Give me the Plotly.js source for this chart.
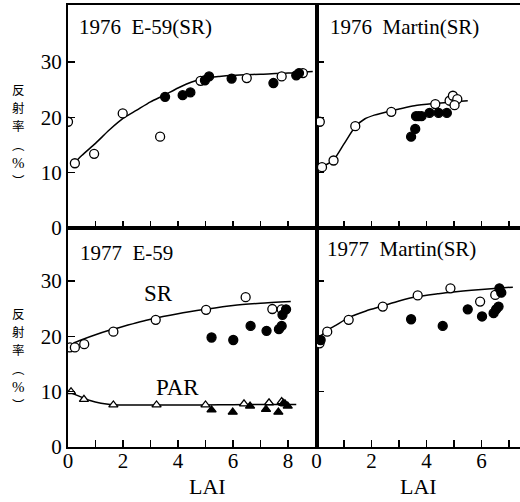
<!DOCTYPE html>
<html>
<head>
<meta charset="utf-8">
<script src="https://cdn.plot.ly/plotly-3.0.1.min.js"></script>
<style>html,body{margin:0;padding:0;background:#fff;}#chart{width:520px;height:502px;}</style>
</head>
<body>
<div id="chart"></div>
<script>
// ---- Data ----
// 1976 E-59 (SR)
const e76_open_x = [0, 0.25, 0.95, 1.99, 3.35, 4.82, 6.5, 7.77, 8.54];
const e76_open_y = [19.2, 11.7, 13.4, 20.7, 16.5, 26.6, 27.1, 27.4, 28.0];
const e76_fill_x = [3.53, 4.17, 4.45, 4.98, 5.13, 5.95, 7.47, 8.3, 8.4];
const e76_fill_y = [23.7, 24.0, 24.5, 26.7, 27.4, 27.0, 26.2, 27.6, 28.0];
const e76_fit_x = [0.13, 0.5, 1, 1.5, 2, 2.5, 3, 3.5, 4, 4.5, 5, 5.5, 6, 7, 8, 8.9];
const e76_fit_y = [11.2, 13.1, 15.3, 17.7, 19.8, 21.3, 22.8, 24.0, 25.3, 26.4, 27.1, 27.4, 27.6, 27.8, 28.0, 28.3];

// 1976 Martin (SR)
const m76_open_x = [0.12, 0.2, 0.62, 1.41, 2.72, 4.32, 4.84, 4.96, 5.12, 5.02];
const m76_open_y = [19.2, 11.0, 12.2, 18.4, 21.0, 22.4, 23.0, 23.9, 23.3, 22.2];
const m76_fill_x = [3.44, 3.59, 3.62, 3.72, 3.82, 4.11, 4.44, 4.74];
const m76_fill_y = [16.5, 17.9, 20.2, 20.2, 20.2, 20.8, 20.8, 20.8];
const m76_fit_x = [0.05, 0.3, 0.62, 1.0, 1.41, 1.75, 2.1, 2.72, 3.0, 3.56, 4.29, 5.0, 5.5];
const m76_fit_y = [10.6, 11.3, 12.3, 15.2, 18.3, 19.7, 20.4, 21.2, 21.5, 22.1, 22.5, 22.8, 23.0];

// 1977 E-59 : SR and PAR
const e77_open_x = [0.07, 0.25, 0.59, 1.65, 3.19, 5.02, 6.46, 7.43, 7.77];
const e77_open_y = [18.0, 18.0, 18.6, 20.85, 23.0, 24.8, 27.1, 24.95, 24.9];
const e77_fill_x = [5.22, 6.01, 6.64, 7.22, 7.67, 7.77, 7.8, 7.93];
const e77_fill_y = [19.8, 19.35, 21.9, 21.0, 21.3, 21.9, 23.9, 24.9];
const e77_fit_x = [0.2, 0.5, 1, 1.5, 2, 3, 4, 5, 6, 7, 8.1];
const e77_fit_y = [18.8, 19.4, 20.3, 21.1, 21.8, 23.1, 24.1, 24.9, 25.6, 26.0, 26.3];

const par_open_x = [0.11, 0.58, 1.65, 3.22, 5.0, 6.4, 7.31, 7.77];
const par_open_y = [10.0, 8.6, 7.6, 7.6, 7.6, 7.8, 8.0, 8.2];
const par_fill_x = [5.22, 5.99, 6.62, 7.2, 7.65, 7.83, 7.89, 7.99];
const par_fill_y = [6.7, 6.3, 7.4, 6.8, 6.3, 7.9, 7.8, 7.4];
const par_fit_x = [0, 0.4, 0.8, 1.2, 1.6, 2.5, 4, 5, 6, 7, 8.3];
const par_fit_y = [10.0, 9.2, 8.4, 7.9, 7.65, 7.6, 7.6, 7.6, 7.65, 7.7, 7.7];

// 1977 Martin (SR)
const m77_open_x = [0.11, 0.39, 1.17, 2.41, 3.68, 4.87, 5.95, 6.5];
const m77_open_y = [18.75, 20.85, 23.0, 25.4, 27.4, 28.7, 26.3, 27.5];
const m77_fill_x = [0.15, 3.44, 4.59, 5.5, 6.02, 6.44, 6.53, 6.62, 6.65, 6.72];
const m77_fill_y = [19.35, 23.1, 21.9, 24.9, 23.6, 24.2, 24.9, 25.4, 28.7, 27.9];
const m77_fit_x = [0.05, 0.2, 0.41, 0.7, 1.17, 1.8, 2.41, 3.0, 3.68, 4.4, 4.87, 6.0, 7.14];
const m77_fit_y = [19.3, 20.3, 21.15, 22.0, 23.4, 24.6, 25.5, 26.4, 27.2, 27.7, 28.0, 28.5, 28.9];

// Tick labels and texts
const yTickVals = [0, 10, 20, 30];
const yTickText = ['0', '10', '20', '30'];
const xTickVals = [0, 2, 4, 6, 8];
const xTickText = ['0', '2', '4', '6', '8'];
const panelTitles = ['1976\u00a0\u00a0E-59(SR)', '1976\u00a0\u00a0Martin(SR)', '1977\u00a0\u00a0E-59', '1977\u00a0\u00a0Martin(SR)'];
const yTitleChars = ['反', '射', '率', '\uFE35', '%', '\uFE36'];
const xTitle = 'LAI';

// ---- Layout helpers ----
const L = 68, T = 5, W = 452, H = 442;
const px = v => (v - L) / W;
const py = v => (T + H - v) / H;
const splitX = px(316.5);
const splitY = py(228);
const serif = 'Liberation Serif';
const cjk = 'Noto Sans CJK JP';
const ink = '#000';

function fit(x, y, xa, ya) {
  return {x, y, xaxis: xa, yaxis: ya, mode: 'lines', type: 'scatter',
    line: {color: ink, width: 1.5, shape: 'spline', smoothing: 0.7}, hoverinfo: 'skip', showlegend: false};
}
function pts(x, y, xa, ya, symbol, filled, size) {
  return {x, y, xaxis: xa, yaxis: ya, mode: 'markers', type: 'scatter', showlegend: false,
    marker: {symbol, size: size || 9, color: filled ? ink : '#fff', line: {color: ink, width: 1.3}}};
}

const data = [
  fit(e76_fit_x, e76_fit_y, 'x', 'y'),
  pts(e76_open_x, e76_open_y, 'x', 'y', 'circle', false),
  pts(e76_fill_x, e76_fill_y, 'x', 'y', 'circle', true),
  fit(m76_fit_x, m76_fit_y, 'x2', 'y2'),
  pts(m76_open_x, m76_open_y, 'x2', 'y2', 'circle', false),
  pts(m76_fill_x, m76_fill_y, 'x2', 'y2', 'circle', true),
  fit(e77_fit_x, e77_fit_y, 'x3', 'y3'),
  pts(e77_open_x, e77_open_y, 'x3', 'y3', 'circle', false),
  pts(e77_fill_x, e77_fill_y, 'x3', 'y3', 'circle', true),
  fit(par_fit_x, par_fit_y, 'x3', 'y3'),
  pts(par_open_x, par_open_y, 'x3', 'y3', 'triangle-up', false, 8),
  pts(par_fill_x, par_fill_y, 'x3', 'y3', 'triangle-up', true, 8),
  fit(m77_fit_x, m77_fit_y, 'x4', 'y4'),
  pts(m77_open_x, m77_open_y, 'x4', 'y4', 'circle', false),
  pts(m77_fill_x, m77_fill_y, 'x4', 'y4', 'circle', true)
];

function xax(domain, range, anchor, labels) {
  return {domain, range, anchor, showgrid: false, zeroline: false, showline: true, linecolor: ink, linewidth: 2,
    mirror: true, ticks: 'inside', ticklen: 7, tickwidth: 1.5, tickcolor: ink,
    tickvals: xTickVals, ticktext: xTickText, showticklabels: labels, ticklabelstandoff: -6,
    minor: {dtick: 1, tick0: 0, ticks: 'inside', ticklen: 7, tickwidth: 1.5, tickcolor: ink},
    tickfont: {family: serif, size: 21, color: ink}, fixedrange: true};
}
function yax(domain, range, anchor, labels, mirror) {
  return {domain, range, anchor, showgrid: false, zeroline: false, showline: true, linecolor: ink, linewidth: 2,
    mirror: mirror, ticks: 'inside', ticklen: 7, tickwidth: 1.5, tickcolor: ink,
    tickvals: yTickVals, ticktext: yTickText, showticklabels: labels,
    tickfont: {family: serif, size: 21, color: ink}, fixedrange: true};
}

const annotations = [];
const titlePos = [[77, 27], [328, 27], [78, 253], [325, 249]];
panelTitles.forEach((t, i) => {
  annotations.push({text: t, xref: 'paper', yref: 'paper', x: px(titlePos[i][0]), y: py(titlePos[i][1]),
    xanchor: 'left', yanchor: 'middle', showarrow: false, font: {family: serif, size: 21, color: ink}});
});
// vertical (stacked) y-axis title, one character per line
const yTitleText = yTitleChars.map(c => c === '%'
  ? '<span style="font-family:Liberation Serif;font-size:15px">%</span>'
  : '<span style="font-size:12.5px">' + c + '</span>').join('<br>');
[135, 359].forEach(cy => {
  annotations.push({text: yTitleText, xref: 'paper', yref: 'paper', x: px(18), y: py(cy),
    xanchor: 'center', yanchor: 'middle', showarrow: false, align: 'center',
    font: {family: cjk, size: 14, color: ink}});
});
[[207.5, 487], [418.5, 487]].forEach(p => {
  annotations.push({text: xTitle, xref: 'paper', yref: 'paper', x: px(p[0]), y: py(p[1]),
    xanchor: 'center', yanchor: 'middle', showarrow: false, font: {family: serif, size: 22, color: ink}});
});
annotations.push({text: 'SR', xref: 'paper', yref: 'paper', x: px(158), y: py(293), xanchor: 'center', yanchor: 'middle',
  showarrow: false, font: {family: serif, size: 23, color: ink}});
annotations.push({text: 'PAR', xref: 'paper', yref: 'paper', x: px(177.5), y: py(387.5), xanchor: 'center', yanchor: 'middle',
  showarrow: false, font: {family: serif, size: 23, color: ink}});

const layout = {
  width: 520, height: 502,
  margin: {l: L, r: 0, t: T, b: 502 - T - H},
  paper_bgcolor: '#fff', plot_bgcolor: '#fff',
  showlegend: false,
  font: {family: serif, color: ink},
  xaxis: xax([0, splitX], [0, (316.5 - 68) / 27.5], 'y', false),
  yaxis: yax([splitY, 1], [0, 40.3], 'x', true, true),
  xaxis2: xax([splitX, 1], [0, (520 - 316.5) / 27.5], 'y2', false),
  yaxis2: yax([splitY, 1], [0, 40.3], 'x2', false, false),
  xaxis3: xax([0, splitX], [0, (316.5 - 68) / 27.5], 'y3', true),
  yaxis3: yax([0, splitY], [0, 39.6], 'x3', true, true),
  xaxis4: xax([splitX, 1], [0, (520 - 316.5) / 27.5], 'y4', true),
  yaxis4: yax([0, splitY], [0, 39.6], 'x4', false, false),
  annotations
};
Plotly.newPlot('chart', data, layout, {staticPlot: true, displayModeBar: false});
</script>
</body>
</html>
